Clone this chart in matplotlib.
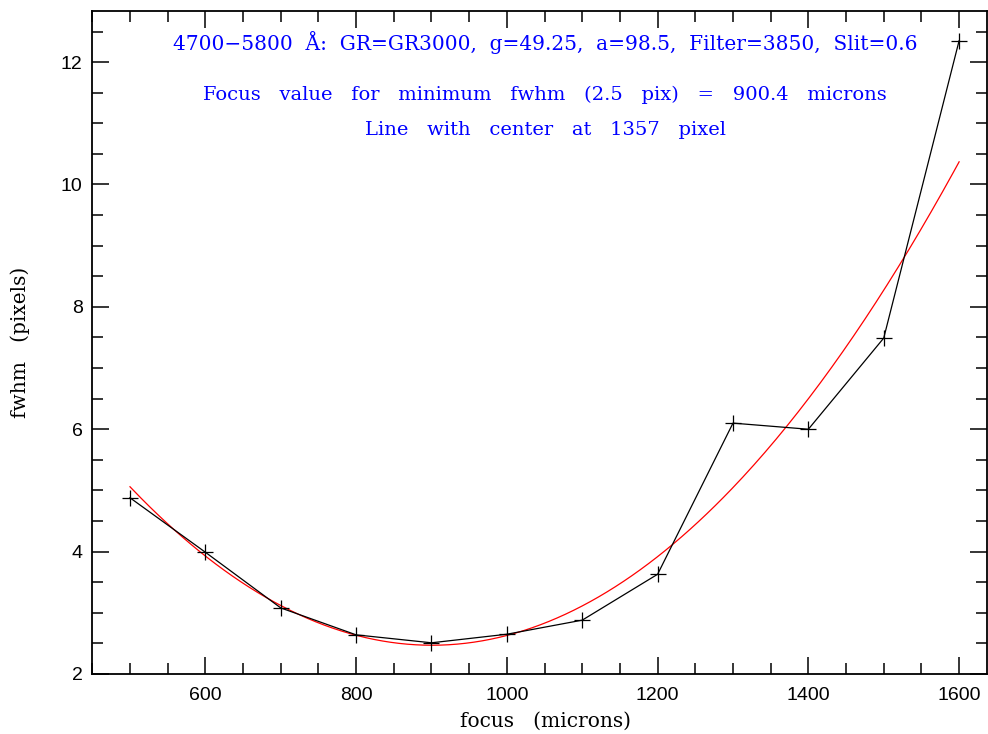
import numpy as np
import matplotlib
matplotlib.use("Agg")
import matplotlib.pyplot as plt
from matplotlib.ticker import MultipleLocator

# focus scan, fwhm measured at each step
focus = [500, 600, 700, 800, 900, 1000, 1100, 1200, 1300, 1400, 1500, 1600]
fwhm = [4.88, 3.99, 3.08, 2.64, 2.51, 2.65, 2.88, 3.63, 6.10, 6.00, 7.49, 12.35]

# points (vertex at 900.4)
fit_x = [500, 900.4, 1600]
fit_y = [5.06, 2.47, 10.37]

title_lines = [
    "4700\u22125800  \u00c5:  GR=GR3000,  g=49.25,  a=98.5,  Filter=3850,  Slit=0.6",
    "Focus   value   for   minimum   fwhm   (2.5   pix)   =   900.4   microns",
    "Line   with   center   at   1357   pixel",
]

plt.rcParams['font.family'] = ['DejaVu Serif']

fig = plt.figure(figsize=(9.88, 7.34), dpi=100)
ax = fig.add_axes([92.3/988, 60/734, (987-92.3)/988, (674-10.7)/734])

coef = np.polyfit(fit_x, fit_y, 2)
xf = np.linspace(min(focus), max(focus), 300)
ax.plot(xf, np.polyval(coef, xf), color="red", lw=0.9)

ax.plot(focus, fwhm, color="black", lw=0.9, marker="+", ms=12, mew=0.9)

ax.set_xlim(450, 1637)
ax.set_ylim(2, 12.84)
ax.xaxis.set_major_locator(MultipleLocator(200))
ax.xaxis.set_minor_locator(MultipleLocator(50))
ax.yaxis.set_major_locator(MultipleLocator(2))
ax.yaxis.set_minor_locator(MultipleLocator(0.5))
ax.tick_params(which="both", direction="in", top=True, right=True, width=1.1)
ax.tick_params(which="major", length=12)
ax.tick_params(which="minor", length=8)
ax.tick_params(axis="x", pad=9)
ax.tick_params(axis="y", pad=7)
for lab in ax.get_xticklabels() + ax.get_yticklabels():
    lab.set_family("Liberation Sans")
    lab.set_fontsize(14)
for s in ax.spines.values():
    s.set_linewidth(1.3)

ax.set_xlabel("focus   (microns)", fontsize=14.5, va="center")
ax.xaxis.set_label_coords(0.506, -0.0709)
ax.set_ylabel("fwhm   (pixels)", fontsize=14.5, va="center")
ax.yaxis.set_label_coords(-0.0805, 0.5)

ys = [43, 95, 130]
sizes = [14.5, 14, 14]
for t, yp, fs in zip(title_lines, ys, sizes):
    fig.text(545/988, 1 - yp/734, t, color="blue", fontsize=fs, ha="center", va="center")

fig.savefig("out.png", dpi=100)
